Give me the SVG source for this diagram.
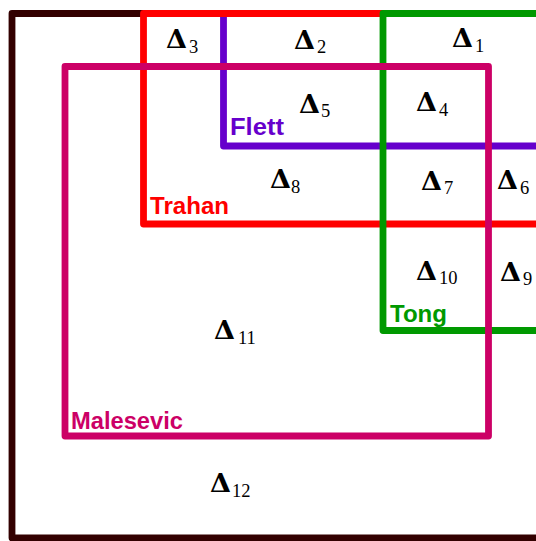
<svg xmlns="http://www.w3.org/2000/svg" width="536" height="541" viewBox="0 0 536 541">
<style>
.box{fill:none;stroke-width:6.8;stroke-linejoin:round}
.d{font-family:"DejaVu Serif","Liberation Serif",serif;font-weight:bold;font-size:26px;fill:#000}
.s{font-family:"Liberation Serif",serif;font-size:18.5px;fill:#000}
.n{font-family:"Liberation Sans",Arial,sans-serif;font-weight:bold;font-size:23px}
</style>
<rect width="536" height="541" fill="#ffffff"/>
<g id="outer"><rect class="box" x="12" y="13.5" width="620" height="524.5" stroke="#330000"/></g>
<g id="flett">
<rect class="box" x="223.5" y="13.5" width="420" height="132.5" stroke="#6600cc"/>
<text class="n" x="230" y="135" fill="#6600cc" textLength="54" lengthAdjust="spacingAndGlyphs">Flett</text>
</g>
<g id="trahan">
<rect class="box" x="143.5" y="13.5" width="500" height="210.5" stroke="#ff0000"/>
<text class="n" x="150" y="214" fill="#ff0000" textLength="79" lengthAdjust="spacingAndGlyphs">Trahan</text>
</g>
<g id="tong">
<rect class="box" x="383" y="13.5" width="300" height="317" stroke="#009900"/>
<text class="n" x="390" y="322" fill="#009900" textLength="57" lengthAdjust="spacingAndGlyphs">Tong</text>
</g>
<g id="malesevic">
<rect class="box" x="65" y="66.5" width="423.5" height="369.5" stroke="#cc0066"/>
<text class="n" x="71" y="429" fill="#cc0066" textLength="112" lengthAdjust="spacingAndGlyphs">Malesevic</text>
</g>
<g id="connectors"></g>
<g id="regions">
<g id="d1"><text class="d" x="452" y="47" textLength="21" lengthAdjust="spacingAndGlyphs">Δ</text><text class="s" x="475" y="52">1</text></g>
<g id="d2"><text class="d" x="294" y="49" textLength="21" lengthAdjust="spacingAndGlyphs">Δ</text><text class="s" x="317" y="53">2</text></g>
<g id="d3"><text class="d" x="166" y="48" textLength="21" lengthAdjust="spacingAndGlyphs">Δ</text><text class="s" x="189" y="53">3</text></g>
<g id="d4"><text class="d" x="416" y="111" textLength="21" lengthAdjust="spacingAndGlyphs">Δ</text><text class="s" x="439" y="116">4</text></g>
<g id="d5"><text class="d" x="299" y="113" textLength="21" lengthAdjust="spacingAndGlyphs">Δ</text><text class="s" x="321" y="117">5</text></g>
<g id="d6"><text class="d" x="497" y="189" textLength="21" lengthAdjust="spacingAndGlyphs">Δ</text><text class="s" x="520" y="194">6</text></g>
<g id="d7"><text class="d" x="421" y="190" textLength="21" lengthAdjust="spacingAndGlyphs">Δ</text><text class="s" x="444" y="194">7</text></g>
<g id="d8"><text class="d" x="270" y="188" textLength="21" lengthAdjust="spacingAndGlyphs">Δ</text><text class="s" x="291" y="193">8</text></g>
<g id="d9"><text class="d" x="500" y="281" textLength="21" lengthAdjust="spacingAndGlyphs">Δ</text><text class="s" x="523" y="285">9</text></g>
<g id="d10"><text class="d" x="416" y="280" textLength="21" lengthAdjust="spacingAndGlyphs">Δ</text><text class="s" x="439" y="284">10</text></g>
<g id="d11"><text class="d" x="214" y="339" textLength="21" lengthAdjust="spacingAndGlyphs">Δ</text><text class="s" x="238" y="344">11</text></g>
<g id="d12"><text class="d" x="210" y="492" textLength="21" lengthAdjust="spacingAndGlyphs">Δ</text><text class="s" x="232" y="497">12</text></g>
</g>
</svg>
